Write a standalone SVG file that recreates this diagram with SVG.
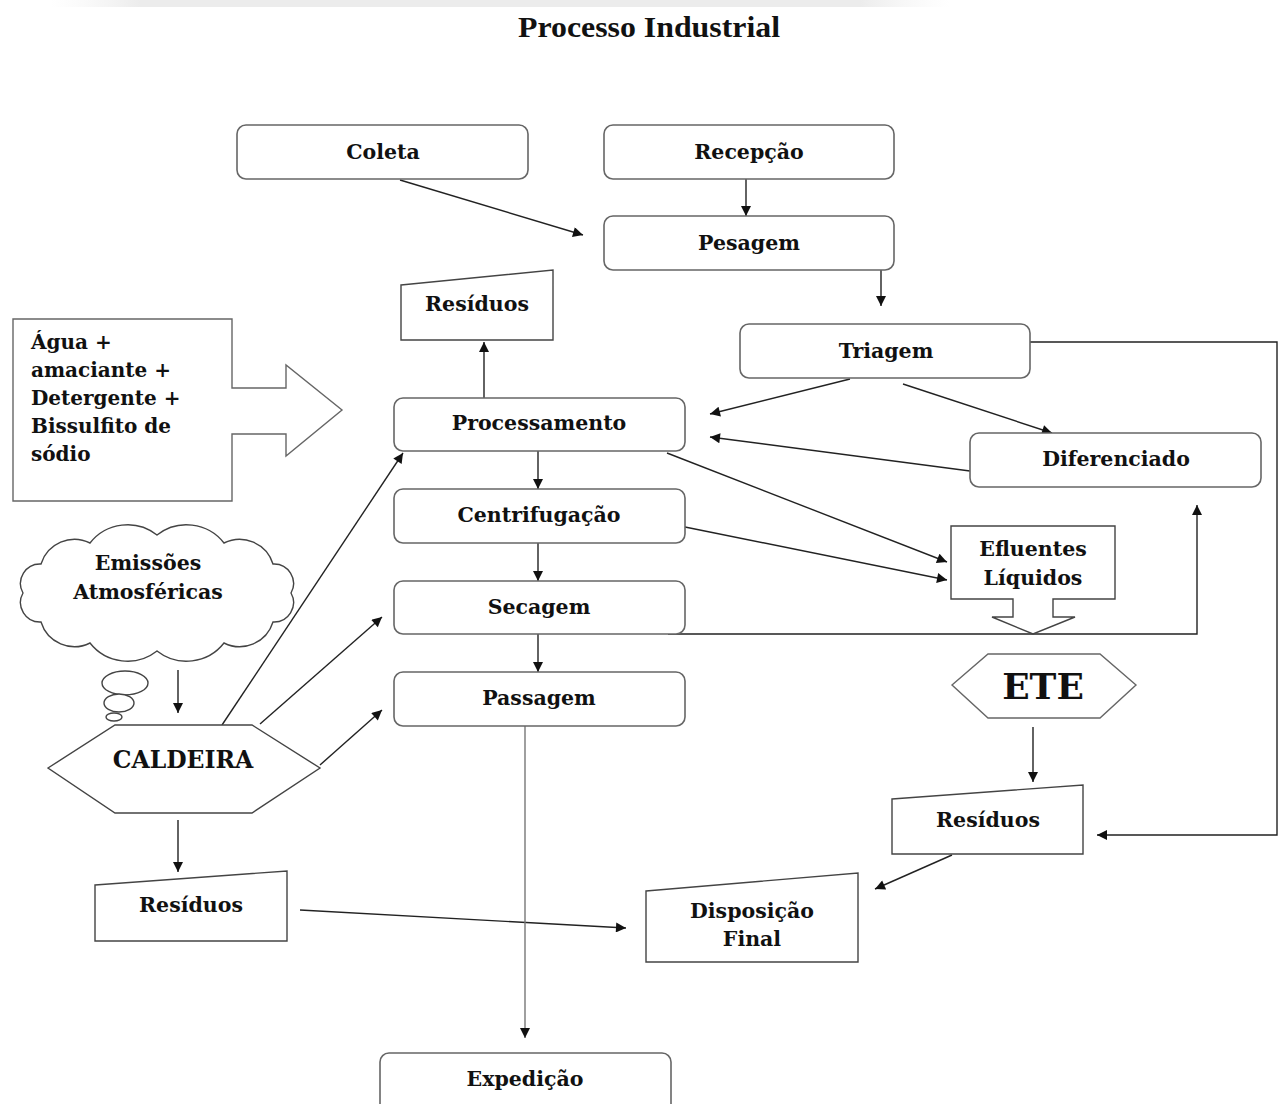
<svg xmlns="http://www.w3.org/2000/svg" width="1280" height="1104" viewBox="0 0 1280 1104">
<defs>
<marker id="ah" viewBox="0 0 10 10" refX="10" refY="5" markerWidth="12" markerHeight="10" markerUnits="userSpaceOnUse" orient="auto"><path d="M0,0 L10,5 L0,10 z" fill="#111"/></marker>
<linearGradient id="band" x1="0" y1="0" x2="1" y2="0">
<stop offset="0" stop-color="#f4f4f4" stop-opacity="0"/>
<stop offset="0.1" stop-color="#ececec"/>
<stop offset="0.9" stop-color="#ececec"/>
<stop offset="1" stop-color="#f4f4f4" stop-opacity="0"/>
</linearGradient>
</defs>
<style>
.box{fill:#fff;stroke:#666;stroke-width:1.6}
.shape{fill:#fff;stroke:#444;stroke-width:1.4}
.t{font-family:"DejaVu Serif","Liberation Serif",serif;font-weight:bold;font-size:20.5px;fill:#111;text-anchor:middle;dominant-baseline:central}
.tl{font-family:"DejaVu Serif","Liberation Serif",serif;font-weight:bold;font-size:20px;fill:#111}
.c{fill:none;stroke:#222;stroke-width:1.4;marker-end:url(#ah)}
</style>
<rect width="1280" height="1104" fill="#fff"/>
<rect x="50" y="0" width="900" height="7" fill="url(#band)"/>
<text x="649" y="27" font-family="'Liberation Serif',serif" font-weight="bold" font-size="29" fill="#111" text-anchor="middle" dominant-baseline="central" textLength="262" lengthAdjust="spacingAndGlyphs">Processo Industrial</text>

<g id="connectors">
<line class="c" x1="400" y1="180" x2="583" y2="235"/>
<line class="c" x1="746" y1="179" x2="746" y2="216"/>
<line class="c" x1="881" y1="270" x2="881" y2="306"/>
<line class="c" x1="850" y1="379" x2="710" y2="414"/>
<line class="c" x1="903" y1="384" x2="1052" y2="433"/>
<line class="c" x1="970" y1="471" x2="710" y2="437"/>
<line class="c" x1="484" y1="398" x2="484" y2="342"/>
<line class="c" x1="538" y1="451" x2="538" y2="489"/>
<line class="c" x1="538" y1="543" x2="538" y2="581"/>
<line class="c" x1="538" y1="634" x2="538" y2="672"/>
<line class="c" x1="667" y1="453" x2="947" y2="562"/>
<line class="c" x1="685" y1="527" x2="947" y2="580"/>
<polyline class="c" points="668,634 1197,634 1197,505"/>
<polyline class="c" points="1030,342 1277,342 1277,835 1097,835"/>
<line class="c" x1="1033" y1="727" x2="1033" y2="782"/>
<line class="c" x1="952" y1="855" x2="875" y2="889"/>
<line class="c" x1="300" y1="910" x2="626" y2="928"/>
<line class="c" x1="178" y1="670" x2="178" y2="713"/>
<line class="c" x1="222" y1="725" x2="403" y2="453"/>
<line class="c" x1="260" y1="724" x2="382" y2="617"/>
<line class="c" x1="320" y1="765" x2="382" y2="710"/>
<line class="c" x1="178" y1="820" x2="178" y2="872"/>
<line class="c" x1="525" y1="726" x2="525" y2="1038" style="stroke:#777"/>
</g>

<g id="coleta"><rect class="box" x="237" y="125" width="291" height="54" rx="9"/><text class="t" x="383" y="152">Coleta</text></g>
<g id="recepcao"><rect class="box" x="604" y="125" width="290" height="54" rx="9"/><text class="t" x="749" y="152">Recepção</text></g>
<g id="pesagem"><rect class="box" x="604" y="216" width="290" height="54" rx="9"/><text class="t" x="749" y="243">Pesagem</text></g>
<g id="triagem"><rect class="box" x="740" y="324" width="290" height="54" rx="9"/><text class="t" x="886" y="351">Triagem</text></g>
<g id="processamento"><rect class="box" x="394" y="398" width="291" height="53" rx="9"/><text class="t" x="539" y="423">Processamento</text></g>
<g id="diferenciado"><rect class="box" x="970" y="433" width="291" height="54" rx="9"/><text class="t" x="1116" y="459">Diferenciado</text></g>
<g id="centrifugacao"><rect class="box" x="394" y="489" width="291" height="54" rx="9"/><text class="t" x="539" y="515">Centrifugação</text></g>
<g id="secagem"><rect class="box" x="394" y="581" width="291" height="53" rx="9"/><text class="t" x="539" y="607">Secagem</text></g>
<g id="passagem"><rect class="box" x="394" y="672" width="291" height="54" rx="9"/><text class="t" x="539" y="698">Passagem</text></g>
<g id="expedicao"><rect class="box" x="380" y="1053" width="291" height="60" rx="9"/><text class="t" x="525" y="1079">Expedição</text></g>

<g id="residuos-top"><polygon class="shape" points="401,285 553,270 553,340 401,340"/><text class="t" x="477" y="304">Resíduos</text></g>

<g id="insumos"><polygon class="shape" points="13,319 232,319 232,388 286,388 286,365 342,410 286,456 286,434 232,434 232,501 13,501" style="stroke:#666"/>
<text class="tl" x="31" y="349">Água +</text>
<text class="tl" x="31" y="377">amaciante +</text>
<text class="tl" x="31" y="405">Detergente +</text>
<text class="tl" x="31" y="433">Bissulfito de</text>
<text class="tl" x="31" y="461">sódio</text></g>

<g id="emissoes">
<path class="shape" d="M23,593 A19.5,19.5 0 0,1 41,564 A35,35 0 0,1 90,543 A47.7,47.7 0 0,1 157,535 A47.7,47.7 0 0,1 224,543 A35,35 0 0,1 273,564 A19.5,19.5 0 0,1 291,593 A19.5,19.5 0 0,1 273,622 A35,35 0 0,1 224,643 A47.7,47.7 0 0,1 157,651 A47.7,47.7 0 0,1 90,643 A35,35 0 0,1 41,622 A19.5,19.5 0 0,1 23,593 Z"/>
<ellipse class="shape" cx="125" cy="683" rx="23" ry="12"/>
<ellipse class="shape" cx="119" cy="703" rx="15" ry="9"/>
<ellipse class="shape" cx="114" cy="717" rx="8" ry="4"/>
<text class="t" x="148" y="563">Emissões</text>
<text class="t" x="148" y="592">Atmosféricas</text>
</g>

<g id="caldeira"><polygon class="shape" points="48,768 115,725 252,725 320,768 252,813 115,813"/><text class="t" x="183" y="760" style="font-size:23.5px">CALDEIRA</text></g>

<g id="residuos-caldeira"><polygon class="shape" points="95,885 287,871 287,941 95,941"/><text class="t" x="191" y="905">Resíduos</text></g>

<g id="efluentes"><polygon class="shape" points="951,526 1115,526 1115,599 1053,599 1053,617 1075,617 1033,634 992,617 1013,617 1013,599 951,599"/>
<text class="t" x="1033" y="549">Efluentes</text><text class="t" x="1033" y="578">Líquidos</text></g>

<g id="ete"><polygon class="shape" points="952,685 988,654 1100,654 1136,685 1100,718 988,718" style="stroke:#666"/><text class="t" x="1043" y="686" style="font-size:36px">ETE</text></g>

<g id="residuos-ete"><polygon class="shape" points="892,799 1083,785 1083,854 892,854"/><text class="t" x="988" y="820">Resíduos</text></g>

<g id="disposicao"><polygon class="shape" points="646,891 858,873 858,962 646,962"/><text class="t" x="752" y="911">Disposição</text><text class="t" x="752" y="939">Final</text></g>
</svg>
